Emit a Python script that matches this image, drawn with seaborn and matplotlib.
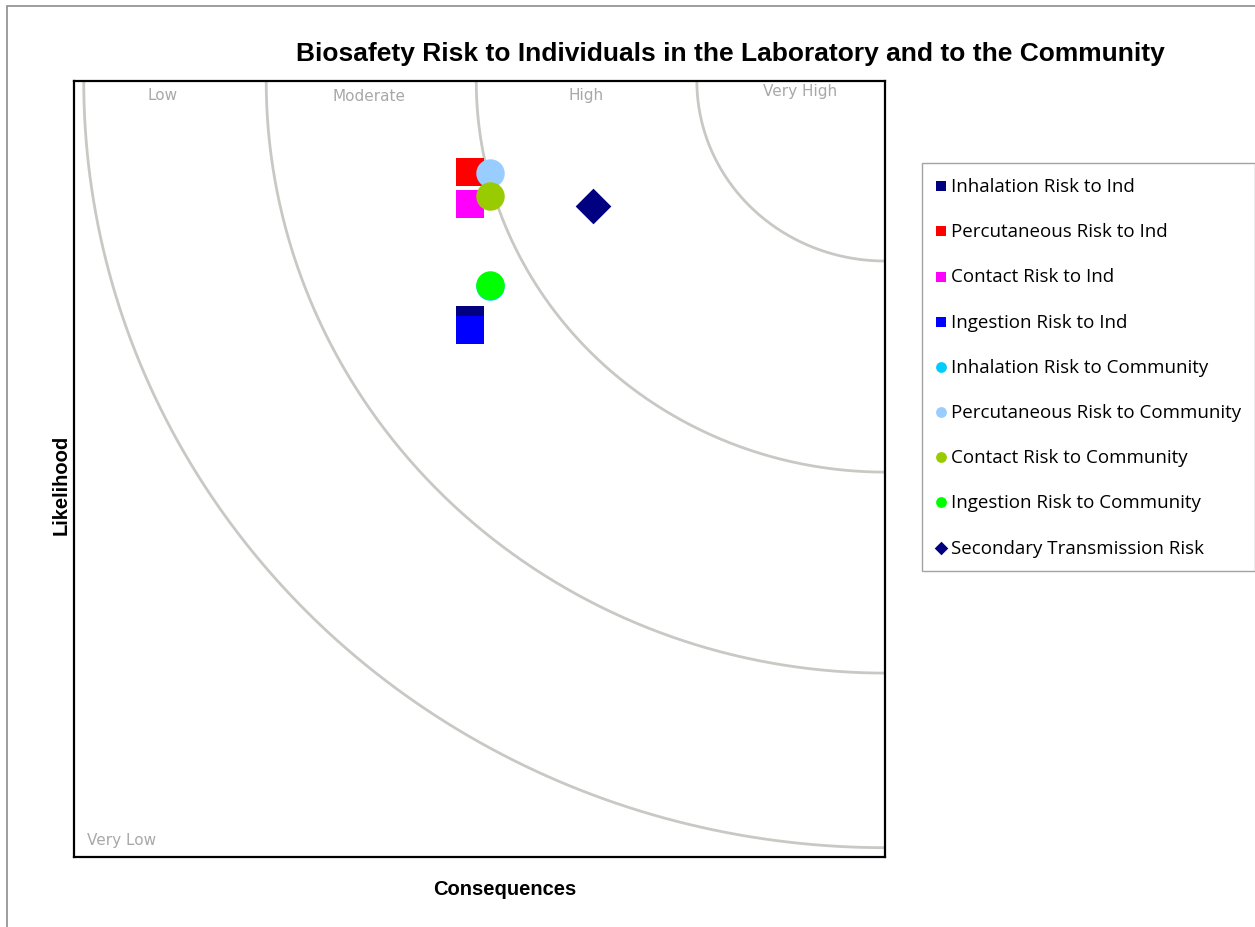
import numpy as np
import matplotlib.pyplot as plt
import seaborn as sns
from matplotlib.patches import Rectangle

# series (axes run 0-10 on both sides)
series = ['Inhalation Risk to Ind', 'Percutaneous Risk to Ind', 'Contact Risk to Ind',
          'Ingestion Risk to Ind', 'Inhalation Risk to Community',
          'Percutaneous Risk to Community', 'Contact Risk to Community',
          'Ingestion Risk to Community', 'Secondary Transmission Risk']
consequences = [4.88, 4.88, 4.88, 4.88, 5.13, 5.13, 5.13, 5.13, 6.40]
likelihood = [6.92, 8.83, 8.41, 6.79, 7.36, 8.81, 8.52, 7.37, 8.39]
colors = ['#000080', '#ff0000', '#ff00ff', '#0000ff', '#00ccff',
          '#99ccff', '#99cc00', '#00ff00', '#000080']
markers = ['s', 's', 's', 's', 'o', 'o', 'o', 'o', 'D']

# zone boundaries, radii from the top-right corner
zone_radii = [2.32, 5.04, 7.63, 9.88]
zone_labels = ['Low', 'Moderate', 'High', 'Very High']
zone_label_x = [1.09, 3.64, 6.31, 8.95]
zone_label_y = [9.82, 9.81, 9.82, 9.88]

sns.set_style('white')
plt.rcParams['font.family'] = ['Liberation Sans', 'DejaVu Sans']

fig = plt.figure(figsize=(12.55, 9.28), dpi=100)
fig.patches.append(Rectangle((7 / 1255, -0.01), 1.0, 1 - 7 / 928 + 0.01,
                             transform=fig.transFigure, fill=False,
                             edgecolor='#8c8c8c', linewidth=1.2))
ax = fig.add_axes([74 / 1255, 70 / 928, 811 / 1255, 776 / 928])

theta = np.linspace(np.pi, 1.5 * np.pi, 300)
for r in zone_radii:
    ax.plot(10 + r * np.cos(theta), 10 + r * np.sin(theta),
            color='#c8c8c4', linewidth=2.0, zorder=1)

for lab, x, y in zip(zone_labels, zone_label_x, zone_label_y):
    ax.text(x, y, lab, ha='center', va='center', fontsize=11,
            color='#a8a8a8', family='DejaVu Sans')
ax.text(0.16, 0.22, 'Very Low', ha='left', va='center', fontsize=11,
        color='#a8a8a8', family='DejaVu Sans')

for name, x, y, c, m in zip(series, consequences, likelihood, colors, markers):
    sns.scatterplot(x=[x], y=[y], ax=ax, color=c, marker=m,
                    s=330 if m == 'D' else 420, linewidth=0, label=name, zorder=3)

ax.set_xlim(0, 10)
ax.set_ylim(0, 10)
ax.set_xticks([])
ax.set_yticks([])
for sp in ax.spines.values():
    sp.set_color('black')
    sp.set_linewidth(1.6)

ax.set_xlabel('Consequences', fontsize=14.5, fontweight='bold', color='black')
ax.xaxis.set_label_coords(431 / 811, -22 / 776)
ax.set_ylabel('Likelihood', fontsize=14.5, fontweight='bold', color='black')
ax.yaxis.set_label_coords(-3 / 811, (858 - 485) / 776)
fig.text(730 / 1255, 1 - 54 / 928,
         'Biosafety Risk to Individuals in the Laboratory and to the Community',
         ha='center', va='center', fontsize=19, fontweight='bold', color='black')

leg = ax.legend(loc='upper left', bbox_to_anchor=(922 / 1255, 1 - 164 / 928),
                bbox_transform=fig.transFigure, borderaxespad=0, frameon=True,
                fancybox=False, edgecolor='#8c8c8c', markerscale=0.38,
                labelspacing=1.45, handlelength=0.55, handletextpad=0.25,
                borderpad=0.75, prop={'family': 'Open Sans', 'size': 13.5})
leg.get_frame().set_linewidth(1.0)
for t in leg.get_texts():
    t.set_color('black')

fig.savefig('out.png', dpi=100)
